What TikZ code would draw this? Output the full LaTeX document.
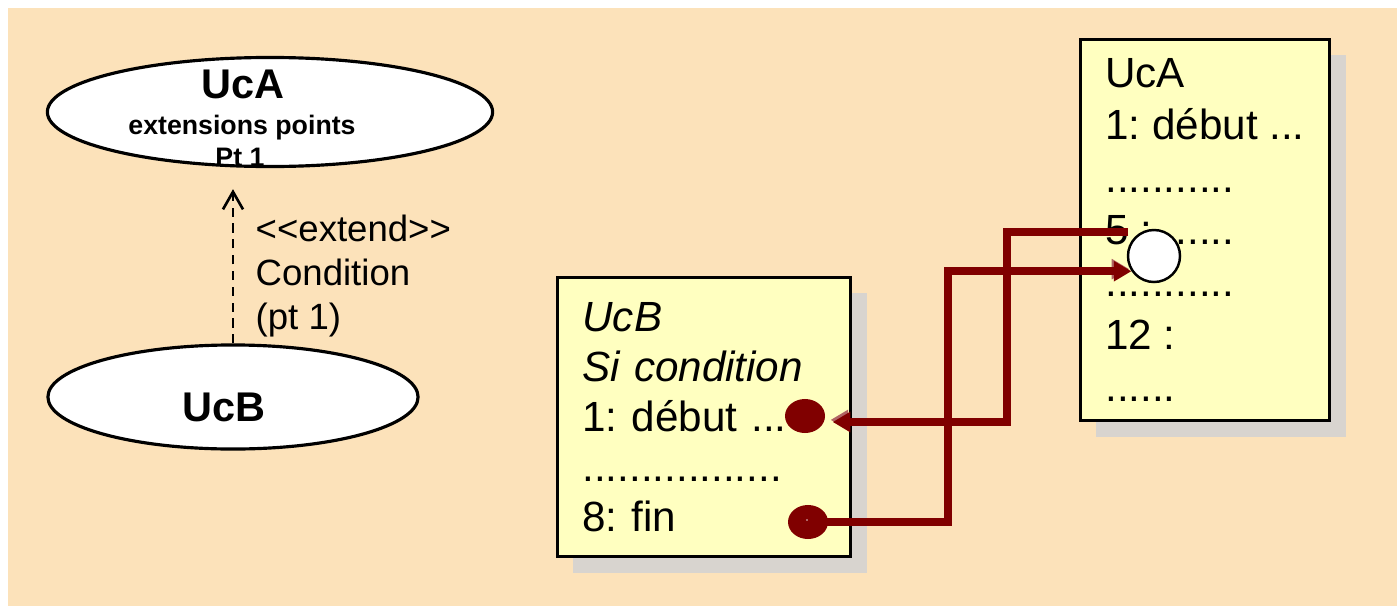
\documentclass[tikz,border=0pt]{standalone}
\usepackage{fontspec}
\setmainfont{Liberation Sans}
\usetikzlibrary{arrows.meta,positioning,shapes.geometric,shadows}
\definecolor{Sand}{HTML}{FCE2BA}
\definecolor{Note}{HTML}{FFFFC0}
\definecolor{Shade}{HTML}{D8D4CF}
\definecolor{Wine}{HTML}{800000}
\definecolor{WineLite}{HTML}{B06464}
\tikzset{
  usecase/.style={ellipse, draw=black, line width=0.9pt, fill=white, inner sep=0pt},
  ucname/.style={font=\fontsize{11.8}{14}\selectfont\bfseries, inner sep=0pt},
  ucsmall/.style={font=\fontsize{7.6}{9}\selectfont\bfseries, inner sep=0pt, anchor=base},
  note/.style={rectangle, draw=black, line width=0.9pt, fill=Note, align=left,
               inner xsep=0.25cm, font=\fontsize{12}{14.9}\selectfont,
               drop shadow={shadow xshift=0.16cm, shadow yshift=-0.16cm, fill=Shade, opacity=1}},
  knob/.style={ellipse, fill=Wine, minimum width=0.40cm, minimum height=0.34cm, inner sep=0pt},
  hole/.style={circle, draw=black, line width=0.7pt, fill=white, minimum size=0.52cm, inner sep=0pt},
  wire/.style={draw=Wine, line width=2.3pt, -{Triangle[length=5pt,width=5.5pt]},
               preaction={draw=WineLite, transform canvas={shift={(-0.6pt,0.6pt)}}}},
  extendarrow/.style={dash pattern=on 2.6pt off 1.9pt, line width=0.75pt,
                      -{Straight Barb[length=5pt,width=5.7pt]}},
  tag/.style={font=\fontsize{10.4}{12.5}\selectfont, align=left, inner sep=0pt},
}

\begin{document}
\frenchspacing
\begin{tikzpicture}[x=0.01cm, y=-0.01cm]
  \useasboundingbox (0,0) rectangle (1397,606);
  \fill[Sand] (8,8) rectangle (1397,606);

  % use cases
  \node[usecase, minimum width=4.45cm, minimum height=1.09cm] (uca) at (270,112) {};
  \node[ucname, anchor=base] (ucatitle) at (243,98) {UcA};
  \node[ucsmall] (ucapoints) at (242,134) {extensions points};
  \node[ucsmall] (ucapt) at (240,166) {Pt 1};
  \node[usecase, minimum width=3.70cm, minimum height=1.04cm] (ucb) at (233,397) {};
  \node[ucname] (ucbtitle) at (224,407) {UcB};

  \draw[extendarrow, shorten >=0.21cm] (ucb.north) -- (ucb.north |- uca.south);
  \node[tag, anchor=west] (cond) at (255,276) {<\kern0pt<extend>\kern0pt>\\Condition\\(pt 1)};

  % scenarios
  \node[note, minimum width=2.93cm, minimum height=2.79cm, text width=2.43cm,
        font=\fontsize{12}{14.2}\selectfont] (ucbnote) at (704,417)
    {\textit{UcB}\\ \textit{Si condition}\\ 1: début ...\\ .................\\ 8: fin};
  \node[note, minimum width=2.45cm, minimum height=3.81cm] (ucanote) at (1205,230)
    {UcA\\ 1: début ...\\ ...........\\ 5 : ......\\ ...........\\ 12 :\\ ......};

  \node[knob] (startknob) at (805,416) {};
  \node[knob] (endknob) at (808,522) {};
  \node[hole] (hole) at (1154,256) {};

  % flow between the scenarios
  \coordinate (leave5) at (1128,232);
  \draw[wire] (leave5) -- ++(-121,0) |- ([shift={(7,6)}]startknob.east);
  \draw[wire] (endknob.center) -- ++(140,0) |- (hole.214);
\end{tikzpicture}
\end{document}
